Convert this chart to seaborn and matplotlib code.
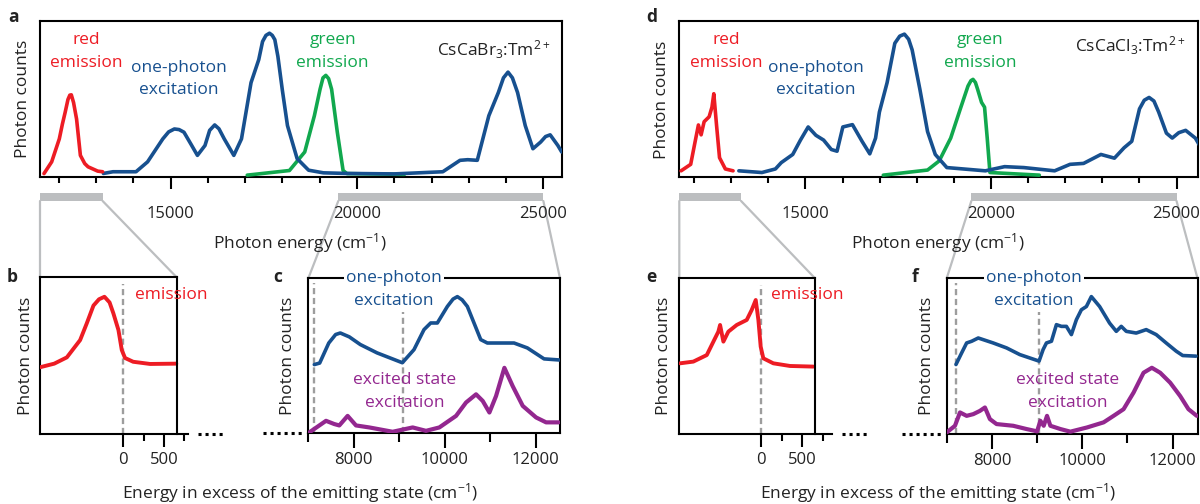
import numpy as np
import matplotlib
matplotlib.use("Agg")
import matplotlib.pyplot as plt
import seaborn as sns
from matplotlib.patches import Rectangle, ConnectionPatch

# ---------------- data ----------------
# Panel a: CsCaBr3:Tm2+, photon energy (cm-1), normalised counts
a_red_x = [11607, 11813, 12018, 12100, 12174, 12250, 12300, 12340, 12400, 12481, 12583, 12700, 12789, 13048, 13180]
a_red_y = [0.010, 0.086, 0.235, 0.330, 0.406, 0.490, 0.518, 0.520, 0.470, 0.363, 0.128, 0.075, 0.054, 0.026, 0.022]
a_blue_x = [13200, 13457, 14075, 14385, 14794, 14950, 15104, 15230, 15361, 15550, 15722, 15925, 16050, 16185,
            16300, 16441, 16698, 16904, 17160, 17367, 17469, 17560, 17655, 17730, 17798, 17880, 18000, 18137,
            18396, 18704, 19100, 19733, 21000, 22303, 22765, 22971, 23228, 23538, 23793, 23930, 24052,
            24170, 24308, 24514, 24720, 24926, 25060, 25183, 25389, 25492]
a_blue_y = [0.011, 0.022, 0.022, 0.086, 0.235, 0.280, 0.299, 0.295, 0.278, 0.200, 0.128, 0.192, 0.290, 0.325,
            0.300, 0.235, 0.128, 0.235, 0.599, 0.748, 0.865, 0.905, 0.919, 0.905, 0.877, 0.769, 0.550, 0.321,
            0.107, 0.032, 0.015, 0.011, 0.008, 0.022, 0.096, 0.100, 0.096, 0.385, 0.535, 0.630, 0.667,
            0.630, 0.535, 0.321, 0.171, 0.214, 0.250, 0.261, 0.192, 0.150]
a_green_x = [17058, 18190, 18600, 18859, 19011, 19090, 19166, 19240, 19321, 19474, 19629, 19733, 21273]
a_green_y = [0.000, 0.030, 0.150, 0.385, 0.556, 0.630, 0.646, 0.625, 0.556, 0.278, 0.030, 0.010, 0.005]

# Panel d: CsCaCl3:Tm2+
d_red_x = [11648, 11907, 12010, 12115, 12188, 12269, 12404, 12480, 12530, 12603, 12684, 12841, 13049]
d_red_y = [0.028, 0.070, 0.197, 0.325, 0.261, 0.346, 0.378, 0.440, 0.527, 0.325, 0.113, 0.040, 0.028]
d_blue_x = [13205, 13826, 14190, 14347, 14657, 14865, 15073, 15281, 15489, 15697, 15851, 16007, 16266,
            16525, 16733, 16889, 16992, 17200, 17408, 17540, 17667, 17780, 17875, 18083, 18290, 18498,
            18810, 19848, 20366, 20885, 21714, 22130, 22494, 22962, 23326, 23585, 23793, 24001, 24130,
            24260, 24390, 24519, 24727, 24884, 25060, 25245, 25506, 25661]
d_blue_y = [0.028, 0.017, 0.040, 0.081, 0.134, 0.227, 0.312, 0.258, 0.227, 0.166, 0.155, 0.312, 0.327,
            0.219, 0.138, 0.240, 0.408, 0.599, 0.854, 0.900, 0.913, 0.880, 0.811, 0.556, 0.282, 0.134,
            0.049, 0.028, 0.055, 0.049, 0.028, 0.070, 0.076, 0.134, 0.110, 0.177, 0.219, 0.429, 0.485,
            0.503, 0.480, 0.408, 0.272, 0.240, 0.275, 0.290, 0.240, 0.177]
d_green_x = [17097, 18290, 18603, 18914, 19173, 19380, 19460, 19515, 19580, 19639, 19745, 19826, 19898, 19971, 21302]
d_green_y = [0.000, 0.033, 0.092, 0.240, 0.429, 0.577, 0.612, 0.620, 0.600, 0.556, 0.471, 0.440, 0.240, 0.017, 0.000]

# Panels b / e: emission vs energy in excess of the emitting state
b_red_x = [-1025, -850, -695, -532, -450, -368, -300, -233, -170, -123, -61, -20, 20, 120, 328, 650]
b_red_y = [0.427, 0.450, 0.490, 0.600, 0.707, 0.820, 0.860, 0.876, 0.840, 0.770, 0.664, 0.537, 0.486, 0.462, 0.448, 0.450]
e_red_x = [-981, -820, -657, -577, -517, -496, -456, -396, -294, -173, -113, -64, -32, -4, 28, 149, 351, 633]
e_red_y = [0.455, 0.466, 0.508, 0.594, 0.658, 0.701, 0.594, 0.658, 0.701, 0.733, 0.797, 0.861, 0.733,
           0.562, 0.487, 0.455, 0.438, 0.434]

# Panels c / f: one-photon and excited-state excitation
c_blue_x = [7132, 7250, 7450, 7600, 7703, 7900, 8143, 8510, 9066, 9322, 9542, 9689, 9835, 10055, 10180, 10275,
            10380, 10495, 10788, 10934, 11520, 11813, 12180, 12510]
c_blue_y = [0.440, 0.450, 0.580, 0.635, 0.645, 0.620, 0.570, 0.516, 0.452, 0.537, 0.667, 0.710, 0.710, 0.817,
            0.865, 0.881, 0.860, 0.817, 0.602, 0.580, 0.580, 0.548, 0.477, 0.470]
c_purple_x = [7022, 7169, 7389, 7571, 7681, 7864, 8048, 8341, 8853, 9293, 9586, 9879, 10246, 10466,
              10686, 10832, 10979, 11125, 11308, 11491, 11711, 12004, 12224, 12500]
c_purple_y = [0.000, 0.030, 0.075, 0.054, 0.045, 0.107, 0.045, 0.032, 0.004, 0.032, 0.010, 0.032, 0.107,
              0.194, 0.247, 0.204, 0.129, 0.236, 0.419, 0.300, 0.172, 0.097, 0.065, 0.065]
f_blue_x = [7205, 7331, 7441, 7552, 7698, 8029, 8325, 8618, 9044, 9133, 9207, 9318, 9428, 9539, 9649,
            9759, 9870, 9980, 10091, 10201, 10384, 10605, 10753, 10863, 10974, 11194, 11415, 11636,
            11857, 12079, 12223, 12517]
f_blue_y = [0.444, 0.519, 0.583, 0.594, 0.615, 0.583, 0.551, 0.508, 0.466, 0.540, 0.583, 0.594, 0.701,
            0.690, 0.690, 0.637, 0.733, 0.797, 0.818, 0.882, 0.818, 0.711, 0.658, 0.690, 0.658, 0.647,
            0.669, 0.637, 0.583, 0.530, 0.502, 0.498]
f_purple_x = [7000, 7183, 7294, 7441, 7588, 7735, 7846, 7956, 8103, 8471, 8766, 9000, 9073, 9147, 9220,
              9294, 9515, 9736, 10104, 10472, 10693, 10914, 11135, 11356, 11540, 11724, 11945, 12166,
              12350, 12534]
f_purple_y = [0.006, 0.049, 0.135, 0.113, 0.124, 0.145, 0.167, 0.092, 0.060, 0.049, 0.028, 0.013, 0.081,
              0.049, 0.113, 0.049, 0.028, 0.011, 0.038, 0.071, 0.113, 0.156, 0.263, 0.391, 0.423, 0.391,
              0.327, 0.241, 0.156, 0.113]

# thresholds (dashed lines)
b_dash = [0]
c_dash = [7132, 9074]
f_dash = [7205, 9044]

# axis ranges & ticks
a_xlim, d_xlim = (11500, 25500), (11600, 25570)
main_major = [15000, 20000, 25000]
main_major_labels = ["15000", "20000", "25000"]
main_minor = list(range(12000, 26000, 1000))
b_xlim, e_xlim = (-1025, 655), (-990, 654)
be_major, be_major_labels, be_minor = [0, 500], ["0", "500"], [250, 750]
c_xlim, f_xlim = (7000, 12530), (7000, 12550)
cf_major, cf_major_labels, cf_minor = [8000, 10000, 12000], ["8000", "10000", "12000"], [7000, 9000, 11000]

# zoom ranges shown by the grey bars (photon energy)
a_bars = [(11500, 13180, -1025, 655, "b"), (19500, 25000, 7000, 12530, "c")]
d_bars = [(11600, 13265, -990, 654, "e"), (19470, 25000, 7000, 12550, "f")]

RED, BLUE, GREEN, PURPLE = "#ed1c24", "#17508f", "#11a84e", "#93278f"
GREYBAR, GREYDASH = "#bcbec0", "#9d9d9d"

# ---------------- figure ----------------
sns.set_theme(style="ticks")
plt.rcParams["font.family"] = ["Open Sans", "DejaVu Sans"]
plt.rcParams["mathtext.default"] = "regular"
FS = 12.5

W, H = 1200, 504
fig = plt.figure(figsize=(12, 5.04), dpi=100)
fig.patch.set_facecolor("white")


def add_ax(l, t, r, b):
    return fig.add_axes([l / W, 1 - b / H, (r - l) / W, (b - t) / H])


def ftext(x, y, s, **kw):
    kw.setdefault("fontsize", FS)
    kw.setdefault("ha", "center")
    kw.setdefault("va", "center")
    return fig.text(x / W, 1 - y / H, s, **kw)


ax_a = add_ax(40, 20.7, 562, 177)
ax_d = add_ax(679.3, 20.7, 1197.7, 177)
ax_b = add_ax(40, 277.3, 188, 434.3)
ax_c = add_ax(308.3, 278.3, 560, 433.3)
ax_e = add_ax(679.3, 278.3, 832, 434.3)
ax_f = add_ax(946.7, 278.3, 1197.5, 434.3)


def base_style(ax):
    ax.set_facecolor("white")
    ax.set_yticks([])
    ax.set_xlabel("")
    ax.set_ylabel("")
    for s in ax.spines.values():
        s.set_linewidth(1.5)
        s.set_color("black")
        s.set_visible(True)
    ax.tick_params(axis="x", which="both", bottom=True, top=False, width=1.5, color="black",
                   labelsize=12, labelcolor="#222222", direction="out")


def line(ax, x, y, color, lw=2.6):
    sns.lineplot(x=x, y=y, ax=ax, color=color, linewidth=lw, estimator=None, sort=False,
                 legend=False, zorder=4, solid_joinstyle="round", solid_capstyle="round")


DASH = (0, (2.6, 1.6))

# ---- main panels a, d ----
for ax, xlim, red, blue, green in [
    (ax_a, a_xlim, (a_red_x, a_red_y), (a_blue_x, a_blue_y), (a_green_x, a_green_y)),
    (ax_d, d_xlim, (d_red_x, d_red_y), (d_blue_x, d_blue_y), (d_green_x, d_green_y)),
]:
    line(ax, *green, GREEN)
    line(ax, *blue, BLUE)
    line(ax, *red, RED)
    base_style(ax)
    ax.set_xlim(*xlim)
    ax.set_ylim(-0.012, 1.0)
    ax.set_xticks(main_major)
    ax.set_xticklabels(main_major_labels)
    ax.set_xticks(main_minor, minor=True)
    ax.tick_params(axis="x", which="major", length=8.6, pad=12)
    ax.tick_params(axis="x", which="minor", length=4.0)

# ---- emission panels b, e (bottom axis extends past the frame) ----
for ax, xlim, red in [(ax_b, b_xlim, (b_red_x, b_red_y)), (ax_e, e_xlim, (e_red_x, e_red_y))]:
    for xv in b_dash:
        ax.axvline(xv, ymin=0, ymax=0.96, color=GREYDASH, lw=1.7, ls=DASH, zorder=2)
    line(ax, *red, RED, lw=2.8)
    base_style(ax)
    ax.set_ylim(0, 1)
    ax.spines["top"].set_visible(False)
    ax.spines["right"].set_visible(False)
    tr = ax.get_xaxis_transform()
    ax.plot([xlim[0], xlim[1]], [1, 1], transform=tr, color="black", lw=1.5, clip_on=False,
            solid_capstyle="projecting", zorder=5)
    ax.plot([xlim[1], xlim[1]], [0, 1], transform=tr, color="black", lw=1.5, clip_on=False,
            solid_capstyle="projecting", zorder=5)
    ax.set_xticks(be_major)
    ax.set_xticklabels(be_major_labels)
    ax.set_xticks(be_minor, minor=True)
    ax.tick_params(axis="x", which="major", length=9.4, pad=3)
    ax.tick_params(axis="x", which="minor", length=4.8)
    ax.plot([1.065, 1.25], [0, 0], transform=ax.transAxes, color="black", lw=2.2,
            ls=(0, (1, 1.3)), clip_on=False)

# set extended xlims (data range + extension for the outer 750 tick)
ax_b.set_xlim(b_xlim[0], b_xlim[1] + (188 - 176.7) * (b_xlim[1] - b_xlim[0]) / (176.7 - 40))
ax_e.set_xlim(e_xlim[0], e_xlim[1] + (832 - 815) * (e_xlim[1] - e_xlim[0]) / (815 - 679.3))

# ---- excitation panels c, f ----
for ax, xlim, dashes, blue, purple in [
    (ax_c, c_xlim, c_dash, (c_blue_x, c_blue_y), (c_purple_x, c_purple_y)),
    (ax_f, f_xlim, f_dash, (f_blue_x, f_blue_y), (f_purple_x, f_purple_y)),
]:
    ax.axvline(dashes[0], ymin=0, ymax=0.97, color=GREYDASH, lw=1.7, ls=DASH, zorder=2)
    ax.axvline(dashes[1], ymin=0, ymax=0.785, color=GREYDASH, lw=1.7, ls=DASH, zorder=2)
    line(ax, *purple, PURPLE, lw=3.0)
    line(ax, *blue, BLUE)
    base_style(ax)
    ax.set_xlim(*xlim)
    ax.set_ylim(-0.006, 1.0)
    ax.set_xticks(cf_major)
    ax.set_xticklabels(cf_major_labels)
    ax.set_xticks(cf_minor, minor=True)
    ax.tick_params(axis="x", which="major", length=10.5, pad=3)
    ax.tick_params(axis="x", which="minor", length=6.5)
    ax.plot([-0.18, -0.02], [0, 0], transform=ax.transAxes, color="black", lw=2.2,
            ls=(0, (1, 1.3)), clip_on=False)

# ---- grey zoom bars and connectors ----
BAR_TOP, BAR_BOT = -(193 - 177) / 156.3, -(201 - 177) / 156.3
for main, bars, targets in [(ax_a, a_bars, {"b": ax_b, "c": ax_c}), (ax_d, d_bars, {"e": ax_e, "f": ax_f})]:
    tr = main.get_xaxis_transform()
    for x0, x1, t0, t1, key in bars:
        main.add_patch(Rectangle((x0, BAR_BOT), x1 - x0, BAR_TOP - BAR_BOT, transform=tr,
                                 facecolor=GREYBAR, edgecolor="none", clip_on=False))
        tgt = targets[key]
        for xs, xt in [(x0, t0), (x1, t1)]:
            cp = ConnectionPatch(xyA=(xs, BAR_BOT), coordsA=tr, xyB=(xt, 1.0),
                                 coordsB=tgt.get_xaxis_transform(), color=GREYBAR, lw=1.6,
                                 zorder=0)
            fig.add_artist(cp)

# ---- texts ----
# panel a
ftext(86.5, 40, "red", color=RED)
ftext(86.5, 62.7, "emission", color=RED)
ftext(179, 68.3, "one-photon", color=BLUE)
ftext(179, 90, "excitation", color=BLUE)
ftext(332.7, 40, "green", color=GREEN)
ftext(332.7, 62.7, "emission", color=GREEN)
ftext(494, 50, r"CsCaBr$_3$:Tm$^{2+}$", color="#222222")
# panel d
ftext(726.5, 40, "red", color=RED)
ftext(726.5, 62.7, "emission", color=RED)
ftext(815.6, 68.3, "one-photon", color=BLUE)
ftext(815.6, 90, "excitation", color=BLUE)
ftext(980, 40, "green", color=GREEN)
ftext(980, 62.7, "emission", color=GREEN)
ftext(1130, 46, r"CsCaCl$_3$:Tm$^{2+}$", color="#222222")
# panels b, e
ftext(135, 295, "emission", color=RED, ha="left")
ftext(771, 295, "emission", color=RED, ha="left")
# panels c, f
for cx, ex in [(394, 405), (1034, 1067.4)]:
    ftext(cx, 278.3, "one-photon", color=BLUE,
          bbox=dict(facecolor="white", edgecolor="none", pad=1.5))
    ftext(cx, 300.7, "excitation", color=BLUE)
    ftext(ex, 380, "excited state", color=PURPLE)
    ftext(ex, 403.3, "excitation", color=PURPLE)

# panel letters
for x, y, s in [(13.5, 17, "a"), (651.5, 17, "d"), (12.5, 277, "b"), (278, 277, "c"),
                (651.5, 277, "e"), (915.5, 277, "f")]:
    ftext(x, y, s, fontweight="bold", fontsize=12.5, color="#222222")

# axis labels
for x, y in [(23, 99), (661.5, 100), (25.8, 355.5), (288.3, 355.5), (664, 355.5), (926.7, 355.5)]:
    ftext(x, y, "Photon counts", rotation=90, color="#222222")
ftext(300, 243, r"Photon energy (cm$^{-1}$)", color="#222222")
ftext(938.3, 243, r"Photon energy (cm$^{-1}$)", color="#222222")
ftext(300, 493, r"Energy in excess of the emitting state (cm$^{-1}$)", color="#222222")
ftext(938.3, 493, r"Energy in excess of the emitting state (cm$^{-1}$)", color="#222222")

fig.savefig("out.png", dpi=100, facecolor="white")
